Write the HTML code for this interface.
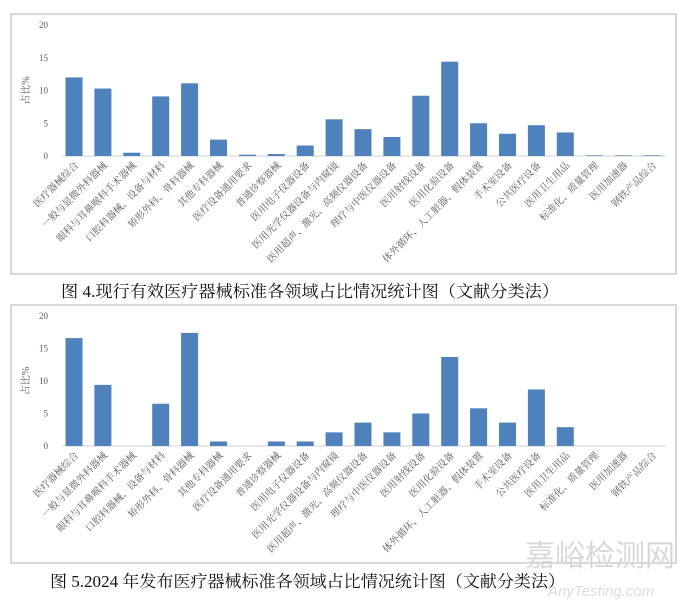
<!DOCTYPE html>
<html><head><meta charset="utf-8"><style>
body{margin:0;background:#fff;width:680px;height:607px;overflow:hidden}
svg{display:block}
</style></head><body>
<svg id="s" width="680" height="607" xmlns="http://www.w3.org/2000/svg"></svg>
<script>
const categories=["医疗器械综合","一般与显微外科器械","眼科与耳鼻喉科手术器械","口腔科器械、设备与材料","矫形外科、骨科器械","其他专科器械","医疗设备通用要求","普通诊察器械","医用电子仪器设备","医用光学仪器设备与内窥镜","医用超声、激光、高频仪器设备","理疗与中医仪器设备","医用射线设备","医用化验设备","体外循环、人工脏器、假体装置","手术室设备","公共医疗设备","医用卫生用品","标准化、质量管理","医用加速器","钢铁产品综合"];
const currentValues=[12,10.3,0.5,9.1,11.1,2.5,0.2,0.3,1.6,5.6,4.1,2.9,9.2,14.4,5.0,3.4,4.7,3.6,0.1,0.1,0.1];
const published2024Values=[16.6,9.4,0,6.5,17.4,0.7,0,0.7,0.7,2.1,3.6,2.1,5.0,13.7,5.8,3.6,8.7,2.9,0,0,0];
const yTicks=[0,5,10,15,20];
const yTitle="占比%";
const captions=["图 4.现行有效医疗器械标准各领域占比情况统计图（文献分类法）","图 5.2024 年发布医疗器械标准各领域占比情况统计图（文献分类法）"];
const NS="http://www.w3.org/2000/svg";
const svg=document.getElementById('s');
function mk(t,a,p){const e=document.createElementNS(NS,t);for(const k in a)e.setAttribute(k,a[k]);(p||svg).appendChild(e);return e;}
function chart(vals,box,y0,y20,idx,cap,capX,capY,capW){
  const g=mk('g',{});
  
  
  const fr=mk('rect',{x:box[0],y:box[1],width:box[2],height:box[3],fill:'#fff',stroke:'#bfbfbf','stroke-width':1.2},g);
  
  
  const yS=v=>y0-(y0-y20)*v/20;
  const xS=i=>74+i*28.9;
  yTicks.forEach(t=>{
    const tx=mk('text',{x:48,y:yS(t)+3,'font-size':9,fill:'#595959','text-anchor':'end','font-family':'Liberation Serif,serif'},g);
    tx.textContent=t;
    
    
  });
  const yt=mk('text',{x:0,y:0,'font-size':10,fill:'#595959','text-anchor':'middle','font-family':'Liberation Serif,Noto Serif CJK SC,serif',transform:`translate(29,${(y0+y20)/2}) rotate(-90)`},g);
  yt.textContent=yTitle;
  
  
  const ax=mk('line',{x1:62,x2:666,y1:y0,y2:y0,stroke:'#d9d9d9','stroke-width':1.2},g);
  
  
  vals.forEach((v,i)=>{
    const h=y0-yS(v);
    const r=mk('rect',{x:xS(i)-8.5,y:yS(v),width:17,height:Math.max(h,0),fill:'#4f81bd'},g);
    
    
    const l=mk('text',{x:0,y:0,'font-size':9.8,fill:'#595959','text-anchor':'end','font-family':'Liberation Serif,Noto Serif CJK SC,serif',transform:`translate(${xS(i)+5},${y0+10}) rotate(-45)`},g);
    l.textContent=categories[i];
    
    
  });
  const c=mk('text',{x:capX,y:capY,'font-size':16.5,fill:'#111','font-family':'Liberation Serif,Noto Serif CJK SC,serif',textLength:capW,lengthAdjust:'spacingAndGlyphs'},g);
  c.textContent=cap;
  
  
}
chart(currentValues,[11,14,665,260],156,25,0,captions[0],61,297,498);
chart(published2024Values,[11,305,665,258],446,316,1,captions[1],50,587,515);
const w=mk('text',{x:525,y:566,'font-size':30,fill:'#d8d8d8','font-family':'Noto Sans CJK SC,sans-serif'});
w.textContent="嘉峪检测网";


const w2=mk('text',{x:548,y:596,'font-size':15,fill:'#dcdcdc','font-style':'italic','font-family':'Liberation Sans,sans-serif'});
w2.textContent="AnyTesting.com";


</script>
</body></html>
